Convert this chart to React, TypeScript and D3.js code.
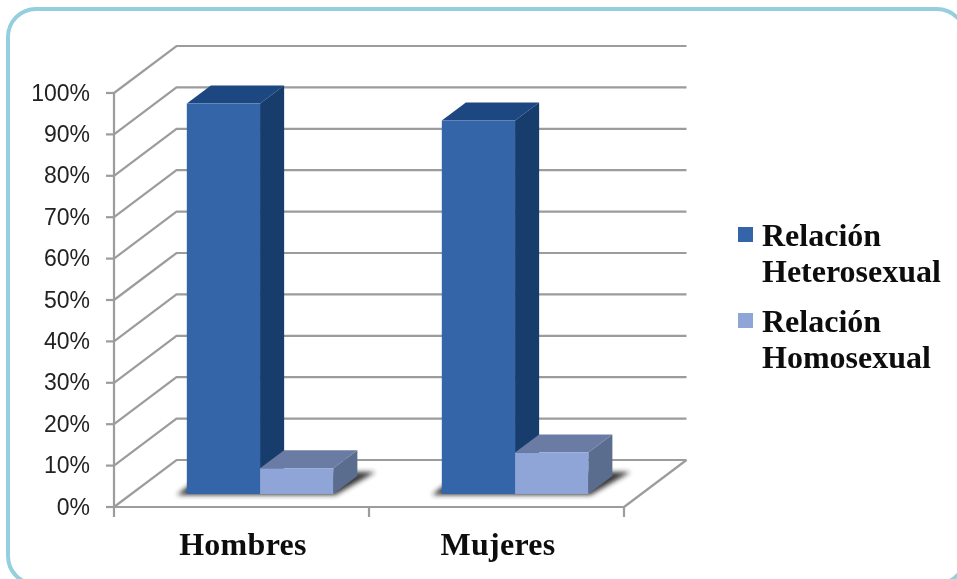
import React from 'react';
import * as d3 from 'd3';

const categories = ['Hombres', 'Mujeres'];
const seriesNames = ['Heterosexual', 'Homosexual'];
const heteroValues = [94.3, 90.2];
const homoValues = [6.2, 10];
const yTicks = [0, 10, 20, 30, 40, 50, 60, 70, 80, 90, 100];
const legendLines = [
  ['Relación', 'Heterosexual'],
  ['Relación', 'Homosexual'],
];

const WIDTH = 957;
const HEIGHT = 579;
const GRID = '#9c9c9c';
const FRONT = ['#3465a9', '#8fa5d7'];
const SIDE = ['#193c6c', '#5a6d8e'];
const TOP = ['#1f4680', '#6a7ca3'];
const SERIF = '"Liberation Serif", serif';

// chart box, front plane of the 3D walls
const left = 114;
const right = 624;
const y = d3.scaleLinear().domain([0, 100]).range([507, 93]);
const x0 = d3.scaleBand<string>().domain(categories).range([left, right]);
const x1 = d3
  .scaleBand<string>()
  .domain(seriesNames)
  .range([55.5, x0.bandwidth() - 53]);

// depth of the walls, and where the bars stand inside that depth
const depthX = 62.5;
const depthY = -47;
const barStart = 0.277;
const barDepth = 0.385;

const pts = (list: number[][]) => list.map((p) => p.join(',')).join(' ');

const App: React.FC = () => {
  const values = [heteroValues, homoValues];
  const bars = categories.flatMap((cat, c) =>
    seriesNames.map((name, s) => {
      const xa = x0(cat)! + x1(name)! + depthX * barStart;
      const xb = xa + x1.bandwidth();
      const yb = y(0) + depthY * barStart;
      const yt = yb - (y(0) - y(values[s][c]));
      return { key: cat + name, s, xa, xb, yb, yt };
    })
  );
  const ddx = depthX * barDepth;
  const ddy = depthY * barDepth;

  return (
    <svg
      width={WIDTH}
      height={HEIGHT}
      style={{ position: 'fixed', left: 0, top: 0, background: '#fff' }}
    >
      <defs>
        <filter id="soft" x="-20%" y="-50%" width="140%" height="200%">
          <feGaussianBlur stdDeviation="2.4" />
        </filter>
        <filter id="smooth" x="-5%" y="-5%" width="110%" height="110%">
          <feGaussianBlur stdDeviation="0.45" />
        </filter>
      </defs>

      <rect x={8} y={9} width={957} height={575} rx={28} fill="#fff" stroke="#93cfdd" strokeWidth={4} />

      {/* walls and floor */}
      <g stroke={GRID} strokeWidth={2.2} fill="none" filter="url(#smooth)">
        {yTicks.map((t) => (
          <g key={t}>
            <line x1={left - 8} x2={left} y1={y(t)} y2={y(t)} />
            <polyline
              points={pts([
                [left, y(t)],
                [left + depthX, y(t) + depthY],
                [right + depthX, y(t) + depthY],
              ])}
            />
          </g>
        ))}
        <line x1={left} x2={left} y1={y(100)} y2={y(0)} />
        <line x1={left} x2={right} y1={y(0)} y2={y(0)} />
        <line x1={right} x2={right + depthX} y1={y(0)} y2={y(0) + depthY} />
        {[left, x0(categories[1])!, right].map((t) => (
          <line key={t} x1={t} x2={t} y1={y(0)} y2={y(0) + 10} />
        ))}
      </g>

      {/* floor shadows, one per cluster */}
      {categories.map((cat) => {
        const group = bars.filter((b) => b.key.startsWith(cat));
        const a = group[0].xa;
        const b = group[1].xb;
        const yb = group[0].yb;
        return (
          <polygon
            key={cat}
            points={pts([
              [a - 10, yb + 1],
              [b + 2, yb + 1],
              [b + 42, yb - 22],
              [a + 20, yb - 22],
            ])}
            fill="#222"
            opacity={0.9}
            filter="url(#soft)"
          />
        );
      })}

      {/* bars */}
      <g filter="url(#smooth)">
        {bars.map((b) => (
          <g key={b.key}>
            <polygon
              points={pts([
                [b.xb, b.yb],
                [b.xb + ddx, b.yb + ddy],
                [b.xb + ddx, b.yt + ddy],
                [b.xb, b.yt],
              ])}
              fill={SIDE[b.s]}
            />
            <polygon
              points={pts([
                [b.xa, b.yt],
                [b.xb, b.yt],
                [b.xb + ddx, b.yt + ddy],
                [b.xa + ddx, b.yt + ddy],
              ])}
              fill={TOP[b.s]}
            />
            <rect x={b.xa} y={b.yt} width={b.xb - b.xa} height={b.yb - b.yt} fill={FRONT[b.s]} />
          </g>
        ))}
      </g>

      {/* y tick labels */}
      <g
        fontFamily='"Liberation Sans", sans-serif'
        fontSize={23}
        fill="#222"
        textAnchor="end"
        filter="url(#smooth)"
      >
        {yTicks.map((t) => (
          <text key={t} x={90} y={y(t)} dy="0.33em">
            {t}%
          </text>
        ))}
      </g>

      {/* category labels */}
      <g
        fontFamily={SERIF}
        fontWeight="bold"
        fontSize={32}
        fill="#111"
        textAnchor="middle"
        filter="url(#smooth)"
      >
        {categories.map((cat) => (
          <text key={cat} x={x0(cat)! + x0.bandwidth() / 2 + 1.5} y={555} letterSpacing={0.3}>
            {cat}
          </text>
        ))}
      </g>

      {/* legend */}
      {legendLines.map((lines, i) => (
        <g key={i} transform={`translate(738,${227 + i * 86})`}>
          <rect width={15} height={15} fill={FRONT[i]} />
          <text
            fontFamily={SERIF}
            fontWeight="bold"
            fontSize={32}
            fill="#111"
            filter="url(#smooth)"
          >
            {lines.map((line, j) => (
              <tspan key={j} x={24} y={19 + j * 36.3}>
                {line}
              </tspan>
            ))}
          </text>
        </g>
      ))}
    </svg>
  );
};

export default App;
